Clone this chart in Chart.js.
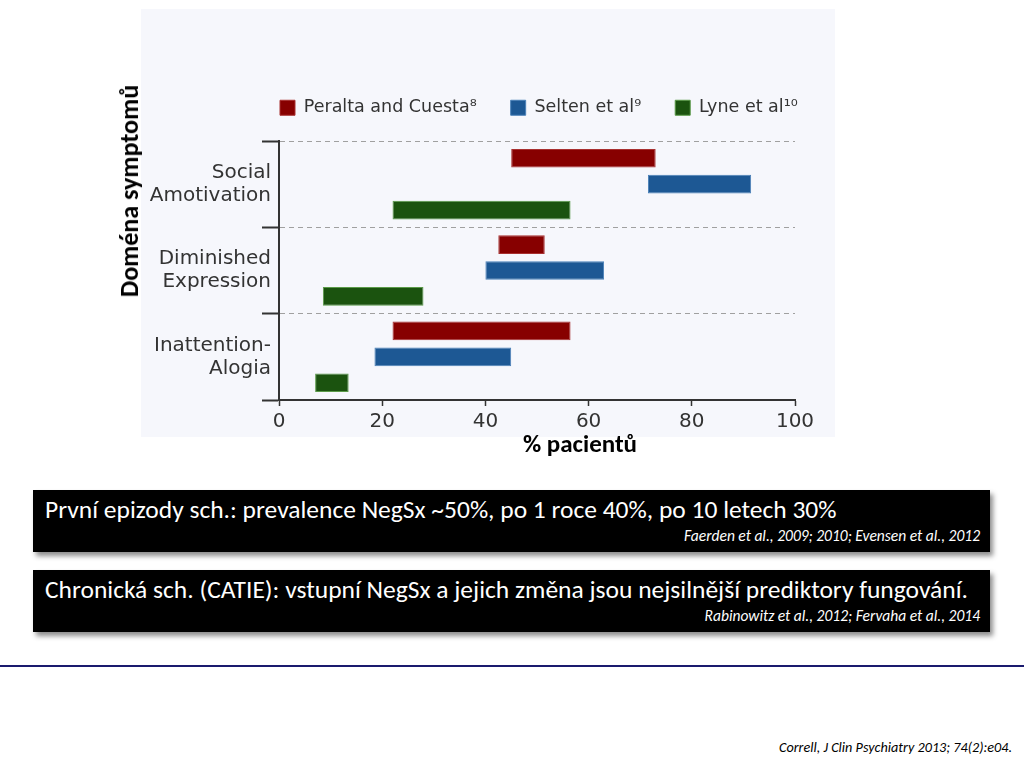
<!DOCTYPE html>
<html>
<head>
<meta charset="utf-8">
<script src="https://cdn.jsdelivr.net/npm/chart.js@4.4.1/dist/chart.umd.min.js"></script>
<style>
  body { margin: 0; width: 1024px; height: 768px; overflow: hidden; background: #fff; position: relative; font-family: Carlito, Lato, sans-serif; }
  #panel { position: absolute; left: 141px; top: 9px; width: 694px; height: 428px; background: #f6f7fc; }
  #wrap { position: absolute; left: 0; top: 0; width: 1024px; height: 460px; }
  #ytitle { position: absolute; left: 129px; top: 191px; transform: translate(-50%, -50%) rotate(-90deg); font-weight: bold; font-size: 26px; line-height: 1; color: #000; white-space: nowrap; }
  #xtitle { position: absolute; left: 580px; top: 443px; transform: translate(-50%, -50%); font-weight: bold; font-size: 25px; line-height: 1; color: #000; white-space: nowrap; }
  .box { position: absolute; left: 33px; width: 957px; height: 62px; background: #000; box-shadow: 3px 4px 5px rgba(0,0,0,0.45); color: #fff; }
  .box .main { position: absolute; left: 12px; top: 7px; font-size: 25.5px; line-height: 1; white-space: nowrap; }
  .box .cite { position: absolute; right: 10px; top: 38px; font-size: 15.5px; line-height: 1; font-style: italic; white-space: nowrap; }
  #rule { position: absolute; left: 0; top: 665px; width: 1024px; height: 1.5px; background: #1a1a6e; }
  #source { position: absolute; right: 12px; top: 740px; font-size: 14.2px; line-height: 1; font-style: italic; color: #000; }
</style>
</head>
<body>
<div id="panel"></div>
<div id="wrap"><canvas id="bars"></canvas></div>
<div id="ytitle">Doména symptomů</div>
<div id="xtitle">% pacientů</div>

<div class="box" style="top:490px">
  <div class="main">První epizody sch.: prevalence NegSx ~50%, po 1 roce 40%, po 10 letech 30%</div>
  <div class="cite">Faerden et al., 2009; 2010; Evensen et al., 2012</div>
</div>
<div class="box" style="top:570px">
  <div class="main">Chronická sch. (CATIE): vstupní NegSx a jejich změna jsou nejsilnější prediktory fungování.</div>
  <div class="cite">Rabinowitz et al., 2012; Fervaha et al., 2014</div>
</div>
<div id="rule"></div>
<div id="source">Correll, J Clin Psychiatry 2013; 74(2):e04.</div>

<script>
// symptom domains, top to bottom
const domains = [["Social", "Amotivation"], ["Diminished", "Expression"], ["Inattention-", "Alogia"]];
const studyNames = ["Peralta and Cuesta⁸", "Selten et al⁹", "Lyne et al¹⁰"];

// % of patients, [from, to] per domain
const peralta = [[45, 73], [42.5, 51.5], [22, 56.5]];
const selten = [[71.5, 91.5], [40, 63], [18.5, 45]];
const lyne = [[22, 56.5], [8.5, 28], [7, 13.5]];

const xMin = 0;
const xMax = 100;
const xStep = 20;

const tickFont = { family: "DejaVu Sans", size: 20, lineHeight: 1.15 };

// put the legend where the slide has it
const legendPlace = {
  id: "legendPlace",
  beforeLayout(chart) {
    let lg = chart.legend;
    if (lg._patched) return;
    let fit = lg.fit;
    lg.fit = function () {
      fit.call(this);
      this.height = 141;
    };
    lg._patched = true;
  },
  afterLayout(chart) {
    let lg = chart.legend;
    let pad = lg.options.labels.padding;
    let w = lg.right - lg.left;
    lg.left = chart.chartArea.left + 1 - pad;
    lg.right = lg.left + w;
    lg.top = 99 - pad;
    lg.bottom = 140;
  }
};

new Chart("bars", {
  type: "bar",
  data: {
    labels: domains,
    datasets: [
      { label: studyNames[0], data: peralta, backgroundColor: "#870000", borderColor: "#a83030", borderWidth: 1 },
      { label: studyNames[1], data: selten, backgroundColor: "#1d5894", borderColor: "#4a80b8", borderWidth: 1 },
      { label: studyNames[2], data: lyne, backgroundColor: "#1b530f", borderColor: "#5a9a48", borderWidth: 1 }
    ]
  },
  options: {
    indexAxis: "y",
    responsive: true,
    maintainAspectRatio: false,
    animation: false,
    borderSkipped: false,
    categoryPercentage: 0.9,
    barPercentage: 0.72,
    layout: { padding: { left: 100, right: 229, top: 0, bottom: 0 } },
    plugins: {
      legend: {
        position: "top",
        align: "start",
        labels: {
          boxWidth: 15,
          boxHeight: 15,
          padding: 34,
          color: "#333",
          font: { family: "DejaVu Sans", size: 17.5 }
        }
      },
      tooltip: { enabled: false }
    },
    scales: {
      x: {
        min: xMin,
        max: xMax,
        ticks: { stepSize: xStep, color: "#333", padding: 4, font: { family: "DejaVu Sans", size: 20 } },
        grid: { drawOnChartArea: false, tickLength: 6, tickColor: "#333", tickWidth: 1.5 },
        border: { color: "#333", width: 2 },
        afterFit: function (scale) { scale.height = 60; }
      },
      y: {
        ticks: { color: "#333", padding: -9, font: tickFont },
        grid: {
          offset: true,
          color: "#a0a0a0",
          lineWidth: 1,
          tickLength: 17,
          tickColor: "#333",
          tickWidth: 2
        },
        border: { color: "#333", width: 2, dash: [5, 4] },
        afterFit: function (scale) { scale.width = 179; }
      }
    }
  },
  plugins: [legendPlace]
});
</script>
</body>
</html>
